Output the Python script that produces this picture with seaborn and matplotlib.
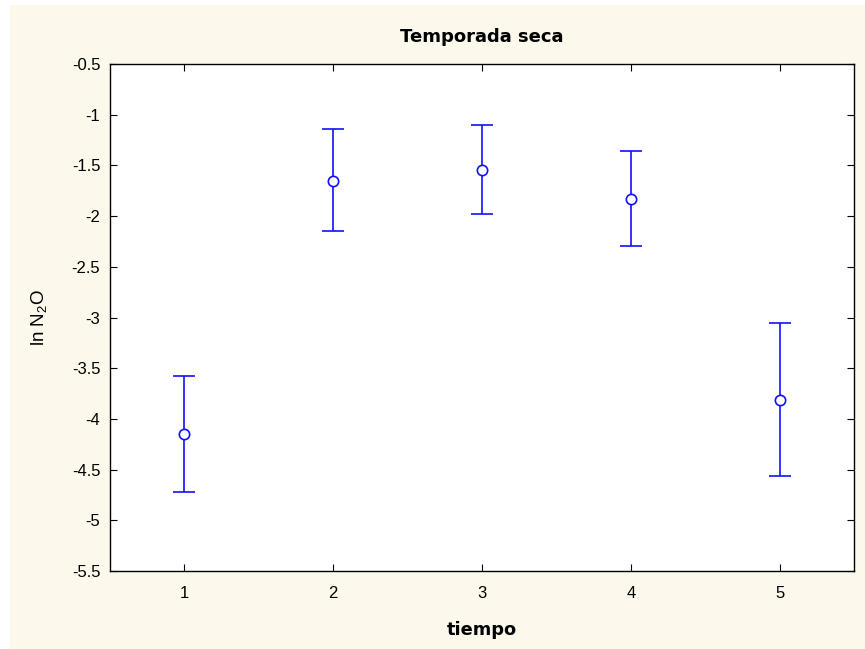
import numpy as np
import pandas as pd
import matplotlib
matplotlib.use("Agg")
import matplotlib.pyplot as plt
import seaborn as sns
from matplotlib.patches import Rectangle

# ---------------------------------------------------------------------------
# Data
# ---------------------------------------------------------------------------
tiempo = [1, 2, 3, 4, 5]
media = [-4.15, -1.65, -1.545, -1.83, -3.81]
lim_inf = [-4.72, -2.15, -1.98, -2.29, -4.565]
lim_sup = [-3.58, -1.14, -1.10, -1.36, -3.055]

BLUE = "#1010FF"
CREAM = "#FCF8EC"

sns.set_style("ticks")
plt.rcParams["font.family"] = ["Liberation Sans", "DejaVu Sans"]
plt.rcParams["mathtext.default"] = "regular"
plt.rcParams["text.color"] = "black"
plt.rcParams["axes.labelcolor"] = "black"

df = pd.DataFrame({"tiempo": tiempo, "media": media,
                   "inf": lim_inf, "sup": lim_sup})

fig = plt.figure(figsize=(8.65, 6.49), dpi=100)
fig.patch.set_facecolor("white")
fig.patches.append(Rectangle((10 / 865, 0), 1, 1 - 5 / 649,
                             transform=fig.transFigure, facecolor=CREAM,
                             edgecolor="none", zorder=-10))
ax = fig.add_axes([110 / 865, 1 - 571 / 649, 744 / 865, 507 / 649])
ax.set_facecolor("white")

yerr = [df["media"] - df["inf"], df["sup"] - df["media"]]
ax.errorbar(df["tiempo"], df["media"], yerr=yerr, fmt="none",
            ecolor=BLUE, elinewidth=1.2, capsize=8, capthick=1.2, zorder=2)
sns.scatterplot(data=df, x="tiempo", y="media", ax=ax, marker="o", s=55,
                facecolor="white", edgecolor=BLUE, linewidth=1.2, zorder=3)

yticks = np.arange(-5.5, -0.49, 0.5)
ax.set_xlim(0.5, 5.5)
ax.set_ylim(-5.5, -0.5)
ax.set_xticks(tiempo)
ax.set_yticks(yticks)
ax.set_yticklabels([f"{v:g}" for v in yticks])
ax.tick_params(direction="in", length=5, width=0.8, top=True, right=True,
               labelsize=12, colors="black")
ax.tick_params(axis="x", pad=11)
ax.tick_params(axis="y", pad=7)
for sp in ax.spines.values():
    sp.set_linewidth(1.0)
    sp.set_color("black")

ax.set_title("Temporada seca", fontsize=13, fontweight="bold",
             family="DejaVu Sans", pad=16)
ax.set_xlabel("tiempo", fontsize=12.8, fontweight="bold",
              family="DejaVu Sans", labelpad=14)
ax.set_ylabel("ln N$_2$O", fontsize=13.5, labelpad=16)

fig.savefig("out.png", dpi=100)
